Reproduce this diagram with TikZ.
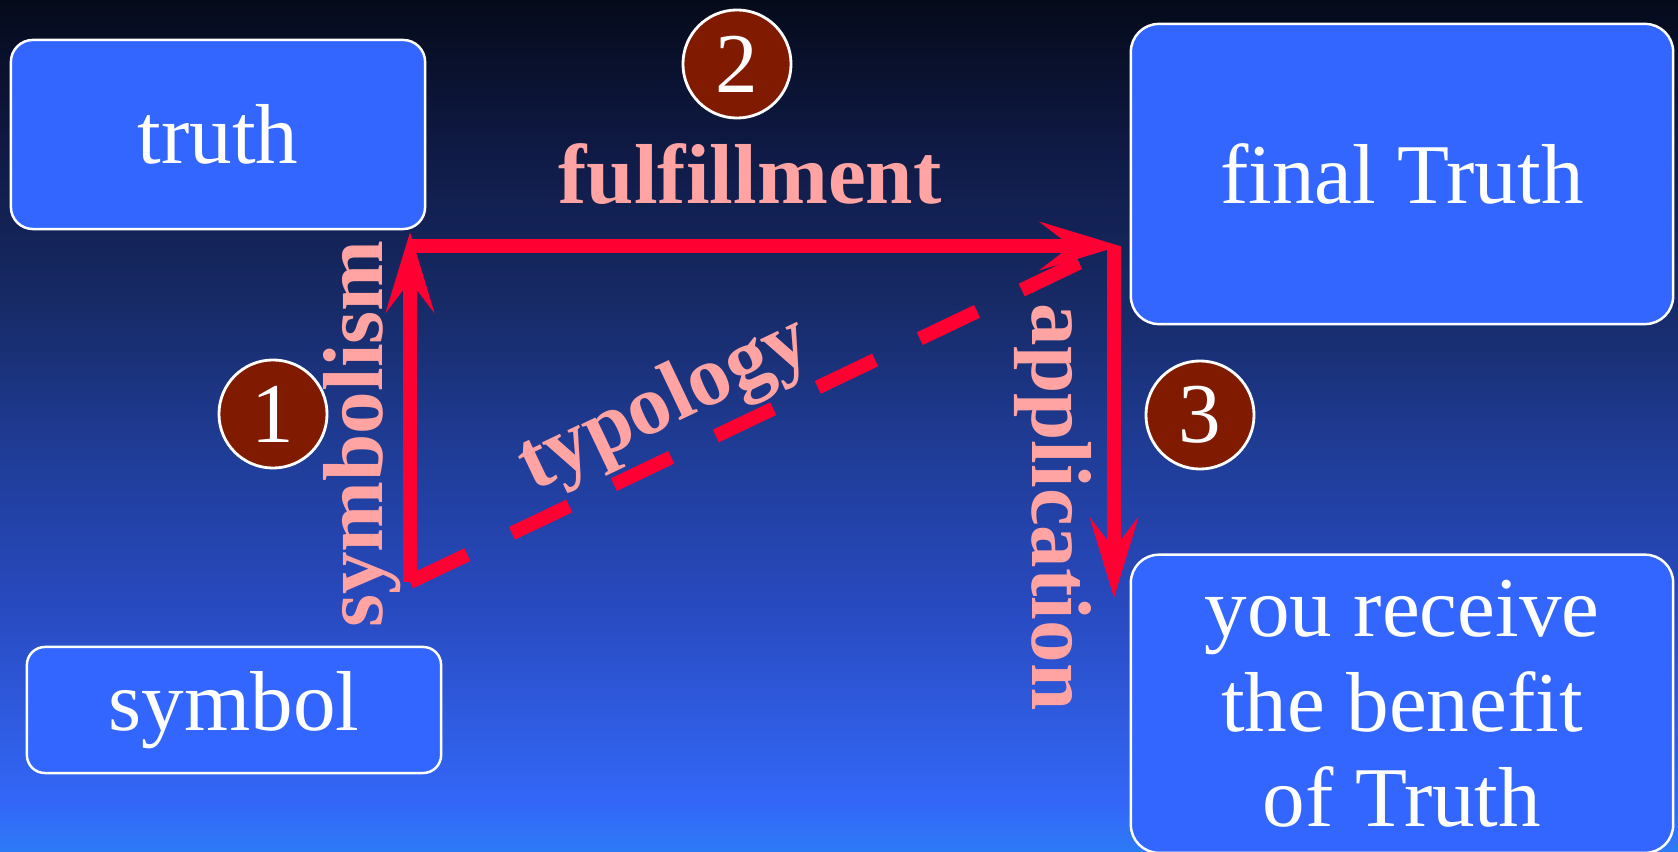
\documentclass[tikz,border=0pt]{standalone}
\usepackage{fontspec}
\setmainfont{Liberation Serif}
\usetikzlibrary{arrows.meta, positioning}

\definecolor{box_blue}{HTML}{3366FF}
\definecolor{link_red}{HTML}{FF0033}
\definecolor{label_pink}{HTML}{FFA3A3}
\definecolor{step_brown}{HTML}{801A00}
\definecolor{bg0}{HTML}{050A1A}
\definecolor{bg1}{HTML}{0F1A45}
\definecolor{bg2}{HTML}{172A66}
\definecolor{bg3}{HTML}{1F3C96}
\definecolor{bg4}{HTML}{2849BE}
\definecolor{bg5}{HTML}{3060E8}
\definecolor{bg6}{HTML}{3366F8}
\definecolor{bg7}{HTML}{2D7AF7}
\pgfdeclareverticalshading{bg_shade}{100bp}{color(0bp)=(bg7); color(25bp)=(bg7); color(28bp)=(bg6); color(31bp)=(bg5); color(39.8bp)=(bg4); color(48.6bp)=(bg3); color(57.4bp)=(bg2); color(66.2bp)=(bg1); color(75bp)=(bg0); color(100bp)=(bg0)}

\newcommand{\slidefont}{\fontsize{24.2}{27}\selectfont}
\tikzstyle{truth_box} = [rectangle, rounded corners=2.2mm, draw=white, line width=0.7pt, fill=box_blue, text=white, font=\slidefont, inner sep=0pt, align=center]
\tikzstyle{step_circle} = [circle, draw=white, line width=0.8pt, fill=step_brown, text=white, minimum size=10.8mm, inner sep=0pt, font=\slidefont]
\tikzstyle{link_arrow} = [draw=link_red, line width=1.4mm, -{Stealth[length=8mm, width=4.8mm, inset=3.1mm]}]
\tikzstyle{link_dash} = [draw=link_red, line width=1.4mm, dash pattern=on 6.35mm off 4.94mm]
\tikzstyle{link_label} = [text=label_pink, font=\bfseries\slidefont, inner sep=0pt, anchor=base]

\begin{document}
\begin{tikzpicture}[x=0.01cm, y=-0.01cm]
\shade[shading=bg_shade] (0,0) rectangle (1678,852);
\useasboundingbox (0,0) rectangle (1678,852);

% boxes
\node (truth) [truth_box, minimum width=41.4mm, minimum height=18.9mm] at (218,134.5) {truth};
\node (symbol) [truth_box, rounded corners=1.8mm, minimum width=41.4mm, minimum height=12.6mm] at (234,710) {symbol};
\node (final) [truth_box, rounded corners=2.8mm, minimum width=54.2mm, minimum height=30mm] at (1402,174) {final Truth};
\node (benefit) [truth_box, rounded corners=2.8mm, minimum width=54.2mm, minimum height=29.8mm, below=22.8mm of final] {you receive\\the benefit\\of Truth};

% steps
\node (step1) [step_circle] at (273,414) {1};
\node (step2) [step_circle] at (737,64) {2};
\node (step3) [step_circle] at (1200,415) {3};

% corners of the arrows
\coordinate (sym_start) at (410,582);
\coordinate (sym_end) at (410,232);
\coordinate (ful_start) at (410,246);
\coordinate (ful_end) at (1120,246);
\coordinate (app_start) at (1114,246);
\coordinate (app_end) at (1114,598);

\draw [link_dash] (sym_start) -- (app_start);
\draw [link_arrow] (sym_start) -- (sym_end);
\draw [link_arrow] (ful_start) -- (ful_end);
\draw [link_arrow] (app_start) -- (app_end);

% labels
\node (fulfillment) [link_label] at (750,204) {fulfillment};
\node (symbolism) [link_label, rotate=90] at (382,434) {symbolism};
\node (application) [link_label, rotate=-90] at (1032,507) {application};
\node (typology) [link_label, rotate=25.5] at (674,424) {typology};
\end{tikzpicture}
\end{document}
